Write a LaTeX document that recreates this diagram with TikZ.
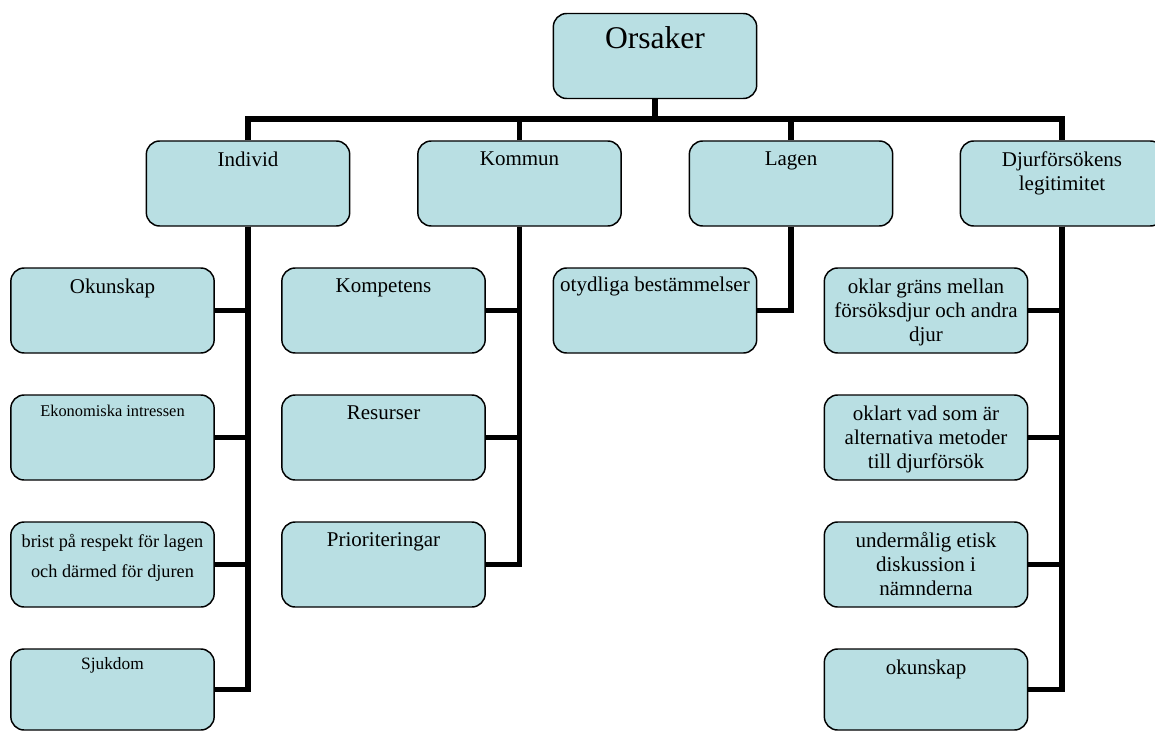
\documentclass[tikz,border=0pt]{standalone}
\usepackage{fontspec}
\setmainfont{Liberation Serif}
\usepackage{tikz}
\definecolor{boxfill}{RGB}{185,223,227}
\tikzset{
	box/.style={draw=black, line width=1.1pt, rounded corners=10pt, fill=boxfill, minimum width=152.5pt, minimum height=63.75pt, inner sep=0pt},
	lowbox/.style={box, minimum height=60.75pt},
	lbl/.style={anchor=north, inner sep=0pt, align=center, font=\fontsize{15.75}{18}\selectfont, yshift=-8.3pt},
	conn/.style={line width=4.2pt}
}

\begin{document}
\begin{tikzpicture}[x=0.75pt, y=-0.75pt]
					\useasboundingbox (0,0) rectangle (1155,731);
					\node[box, label={[lbl, font=\fontsize{23.7}{28}\selectfont, yshift=-2.2pt]north:Orsaker}] (ors) at (655,56) {};
					\coordinate (bar) at (655,119);
					\node[box, label={[lbl]north:Individ}] (ind) at (248,183.5) {};
					\node[box, label={[lbl]north:Kommun}] (kom) at (519.5,183.5) {};
					\node[box, label={[lbl]north:Lagen}] (lag) at (791,183.5) {};
					\node[box, label={[lbl]north:Djurförsökens\\legitimitet}] (dju) at (1062,183.5) {};
					\node[box, label={[lbl]north:Okunskap}] (i1) at (112.5,310.5) {};
					\node[box, label={[lbl, font=\fontsize{12.3}{14}\selectfont, yshift=0.3pt]north:Ekonomiska intressen}] (i2) at (112.5,437.5) {};
					\node[box, label={[lbl, font=\fontsize{13.7}{22.5}\selectfont, yshift=-1pt]north:brist på respekt för lagen\\och därmed för djuren}] (i3) at (112.5,564.5) {};
					\node[lowbox, label={[lbl, font=\fontsize{13}{15}\selectfont, yshift=1.9pt]north:Sjukdom}] (i4) at (112.5,689.5) {};
					\node[box, label={[lbl]north:Kompetens}] (k1) at (383.5,310.5) {};
					\node[box, label={[lbl]north:Resurser}] (k2) at (383.5,437.5) {};
					\node[box, label={[lbl]north:Prioriteringar}] (k3) at (383.5,564.5) {};
					\node[box, label={[lbl, yshift=1pt]north:otydliga bestämmelser}] (l1) at (655,310.5) {};
					\node[box, label={[lbl]north:oklar gräns mellan\\försöksdjur och andra\\djur}] (d1) at (926,310.5) {};
					\node[box, label={[lbl]north:oklart vad som är\\alternativa metoder\\till djurförsök}] (d2) at (926,437.5) {};
					\node[box, label={[lbl]north:undermålig etisk\\diskussion i\\nämnderna}] (d3) at (926,564.5) {};
					\node[lowbox, label={[lbl]north:okunskap}] (d4) at (926,689.5) {};
					\draw[conn] (ors.south) -- (bar);
					\draw[conn] (ind.north) |- (bar) -| (dju.north);
					\draw[conn] (kom.north) -- (kom.north |- bar);\draw[conn] (lag.north) -- (lag.north |- bar);
					\draw[conn] (ind.south) |- (i1.east);\draw[conn] (ind.south) |- (i2.east);\draw[conn] (ind.south) |- (i3.east);\draw[conn] (ind.south) |- (i4.east);
					\draw[conn] (kom.south) |- (k1.east);\draw[conn] (kom.south) |- (k2.east);\draw[conn] (kom.south) |- (k3.east);
					\draw[conn] (lag.south) |- (l1.east);
					\draw[conn] (dju.south) |- (d1.east);\draw[conn] (dju.south) |- (d2.east);\draw[conn] (dju.south) |- (d3.east);\draw[conn] (dju.south) |- (d4.east);
				\end{tikzpicture}
\end{document}
